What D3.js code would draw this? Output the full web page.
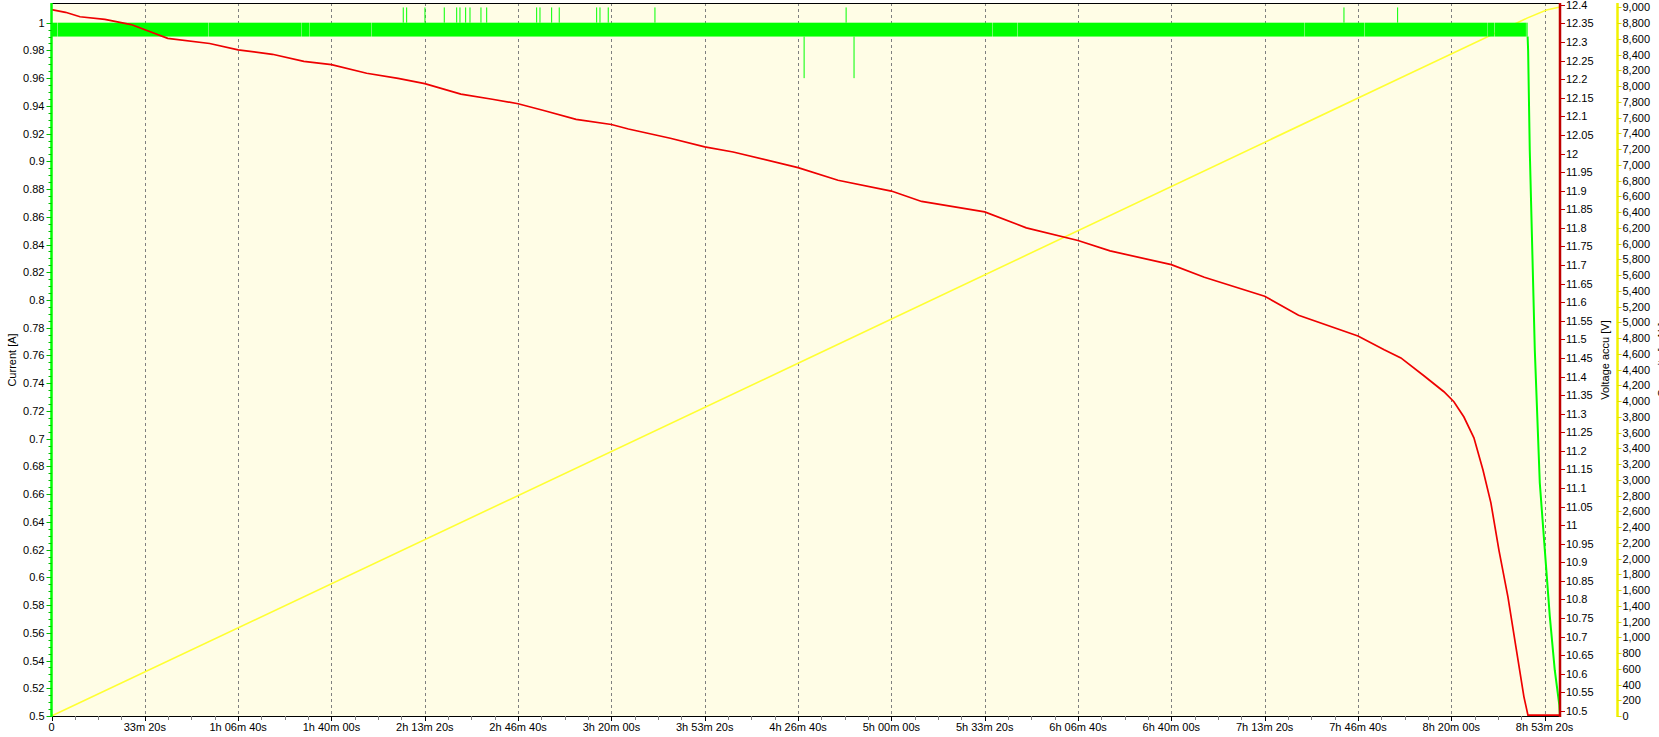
<!DOCTYPE html>
<html><head><meta charset="utf-8">
<script src="https://cdn.jsdelivr.net/npm/d3@7"></script>
<style>
body{margin:0;background:#fff;}
text{font-family:"Liberation Sans",Arial,sans-serif;font-size:11px;fill:#000;}
</style>
</head><body>
<svg id="c" width="1659" height="737"></svg>
<script>
// ---------- data ----------
const timeTicks = [0,2000,4000,6000,8000,10000,12000,14000,16000,18000,20000,22000,24000,26000,28000,30000,32000];
const timeTickLabels = ["0","33m 20s","1h 06m 40s","1h 40m 00s","2h 13m 20s","2h 46m 40s","3h 20m 00s","3h 53m 20s","4h 26m 40s","5h 00m 00s","5h 33m 20s","6h 06m 40s","6h 40m 00s","7h 13m 20s","7h 46m 40s","8h 20m 00s","8h 53m 20s"];
const currentTicks = [0.5,0.52,0.54,0.56,0.58,0.6,0.62,0.64,0.66,0.68,0.7,0.72,0.74,0.76,0.78,0.8,0.82,0.84,0.86,0.88,0.9,0.92,0.94,0.96,0.98,1];
const voltageTicks = [10.5,10.55,10.6,10.65,10.7,10.75,10.8,10.85,10.9,10.95,11,11.05,11.1,11.15,11.2,11.25,11.3,11.35,11.4,11.45,11.5,11.55,11.6,11.65,11.7,11.75,11.8,11.85,11.9,11.95,12,12.05,12.1,12.15,12.2,12.25,12.3,12.35,12.4];
const capacityTicks = [0,200,400,600,800,1000,1200,1400,1600,1800,2000,2200,2400,2600,2800,3000,3200,3400,3600,3800,4000,4200,4400,4600,4800,5000,5200,5400,5600,5800,6000,6200,6400,6600,6800,7000,7200,7400,7600,7800,8000,8200,8400,8600,8800,9000];

// Voltage accu [V] (time s, volts)
const voltTime  = [0,300,611,1144,1706,2491,3389,4000,4735,5408,6000,6755,7428,8000,8774,9447,10000,10570,11243,12000,12365,13262,14000,14609,16000,16856,18000,18648,20000,20892,22000,22687,24000,24707,26000,26726,28000,28562,28920,29413,29842,30056,30271,30485,30678,30849,31021,31214,31386,31557,31643,32330];
const voltValue = [12.387,12.38,12.368,12.361,12.347,12.31,12.296,12.279,12.267,12.248,12.239,12.216,12.202,12.188,12.16,12.146,12.134,12.115,12.092,12.078,12.066,12.041,12.018,12.004,11.962,11.928,11.899,11.871,11.843,11.8,11.766,11.738,11.701,11.667,11.616,11.565,11.509,11.472,11.45,11.402,11.359,11.332,11.291,11.235,11.149,11.06,10.933,10.807,10.672,10.538,10.489,10.489];

// Current [A]: band where the reading toggles between 0.99 and 1.00
const bandLow = 0.99, bandHigh = 1.0;
const bandStart = 0, bandEnd = 31636;
const bandGaps = [125, 3364, 5360, 5520, 6850, 20167, 20702, 26855, 28140, 30779, 30920, 31600];
const spikeTime  = [7539,7612,8004,8418,8684,8754,8876,8969,9204,9327,10398,10469,10719,10882,11684,11755,11932,12933,17030,27700,28850];
const spikeValue = [1.011,1.011,1.011,1.011,1.011,1.011,1.011,1.011,1.011,1.011,1.011,1.011,1.011,1.011,1.011,1.011,1.011,1.011,1.011,1.011,1.011];
const dipTime  = [16130, 17200];
const dipValue = [0.96, 0.96];
const tailTime  = [31636,31647,31682,31790,31897,32004,32111,32218,32315,32330];
const tailValue = [0.99,0.98,0.908,0.764,0.668,0.62,0.572,0.533,0.508,0.5];

// Capacity (time s, mAh)
const capTime  = [0,16000,28897,31636,32041,32330];
const capValue = [0,4480,8099,8866,8966,9005];

// ---------- layout ----------
const L = 51.5, R = 1560, T = 3, B = 716;
const svg = d3.select("#c");
const x = d3.scaleLinear().domain([0,32330]).range([L,R]);
const yI = d3.scaleLinear().domain([0.5,1.0142]).range([B,T]);
const yV = d3.scaleLinear().domain([10.4865,12.405]).range([B,T]).clamp(true);
const yC = d3.scaleLinear().domain([0,9055]).range([B,T]);

svg.append("rect").attr("x",L).attr("y",T).attr("width",R-L).attr("height",B-T).attr("fill","#fffde6");

// grid
svg.append("g").selectAll("line").data(timeTicks.slice(1)).join("line")
  .attr("x1",d=>Math.round(x(d))+0.5).attr("x2",d=>Math.round(x(d))+0.5)
  .attr("y1",T).attr("y2",B).attr("stroke","#808080").attr("stroke-dasharray","3,3");

svg.append("clipPath").attr("id","pc").append("rect")
  .attr("x",L).attr("y",T).attr("width",R-L).attr("height",B-T+1);
const plot = svg.append("g").attr("clip-path","url(#pc)");

// capacity line
plot.append("path").datum(capTime.map((t,i)=>[t,capValue[i]]))
  .attr("fill","none").attr("stroke","#ffff33").attr("stroke-width",1.6)
  .attr("d",d3.line().x(d=>x(d[0])).y(d=>yC(d[1])));

// current band
const edges = [bandStart, ...bandGaps, bandEnd];
const segs = [];
for (let i=0;i<edges.length-1;i++) segs.push([edges[i]+(i?8:0), edges[i+1]]);
plot.append("g").selectAll("rect").data(segs).join("rect")
  .attr("x",d=>x(d[0])).attr("width",d=>Math.max(0,x(d[1])-x(d[0])))
  .attr("y",yI(bandHigh)).attr("height",yI(bandLow)-yI(bandHigh)).attr("fill","#00ff00");
plot.append("g").selectAll("line").data(spikeTime.map((t,i)=>[t,spikeValue[i]])).join("line")
  .attr("x1",d=>x(d[0])).attr("x2",d=>x(d[0])).attr("y1",yI(bandHigh)).attr("y2",d=>yI(d[1]))
  .attr("stroke","#00ff00").attr("stroke-width",1);
plot.append("g").selectAll("line").data(dipTime.map((t,i)=>[t,dipValue[i]])).join("line")
  .attr("x1",d=>x(d[0])).attr("x2",d=>x(d[0])).attr("y1",yI(bandLow)).attr("y2",d=>yI(d[1]))
  .attr("stroke","#00ff00").attr("stroke-width",1);
plot.append("path").datum(tailTime.map((t,i)=>[t,tailValue[i]]))
  .attr("fill","none").attr("stroke","#00ff00").attr("stroke-width",2)
  .attr("d",d3.line().x(d=>x(d[0])).y(d=>yI(d[1])));

// voltage line
plot.append("path").datum(voltTime.map((t,i)=>[t,voltValue[i]]))
  .attr("fill","none").attr("stroke","#ee0000").attr("stroke-width",1.7)
  .attr("d",d3.line().x(d=>x(d[0])).y(d=>yV(d[1])));

// top border
svg.append("line").attr("x1",L).attr("x2",R).attr("y1",T+0.5).attr("y2",T+0.5).attr("stroke","#000");

// bottom axis
const minorT = [];
for (let i=0;i<timeTicks.length;i++){ for(const k of [500,1000,1500]) if (timeTicks[i]+k<32330) minorT.push(timeTicks[i]+k); }
const gx = svg.append("g");
gx.append("line").attr("x1",L).attr("x2",R).attr("y1",B+0.5).attr("y2",B+0.5).attr("stroke","#000");
gx.selectAll(".mn").data(minorT).join("line").attr("class","mn")
  .attr("x1",d=>Math.round(x(d))+0.5).attr("x2",d=>Math.round(x(d))+0.5).attr("y1",B).attr("y2",B+4).attr("stroke","#808080");
gx.selectAll(".mj").data(timeTicks).join("line").attr("class","mj")
  .attr("x1",d=>Math.round(x(d))+0.5).attr("x2",d=>Math.round(x(d))+0.5).attr("y1",B).attr("y2",B+5).attr("stroke","#000");
gx.selectAll("text").data(timeTicks).join("text")
  .attr("x",d=>x(d)).attr("y",B+15).attr("text-anchor","middle").text((d,i)=>timeTickLabels[i]);

// left axis (current)
const minorI = [];
for (let i=0;i<currentTicks.length-1;i++){ for(const k of [0.005,0.01,0.015]) minorI.push(currentTicks[i]+k); }
const gl = svg.append("g");
gl.append("line").attr("x1",L).attr("x2",L).attr("y1",T).attr("y2",B+1).attr("stroke","#00ff00").attr("stroke-width",2.5);
gl.selectAll("line.m").data(minorI).join("line").attr("class","m")
  .attr("x1",L-3).attr("x2",L).attr("y1",d=>Math.round(yI(d))+0.5).attr("y2",d=>Math.round(yI(d))+0.5).attr("stroke","#00c000");
gl.selectAll("line.t").data(currentTicks).join("line").attr("class","t")
  .attr("x1",L-5).attr("x2",L).attr("y1",d=>Math.round(yI(d))+0.5).attr("y2",d=>Math.round(yI(d))+0.5).attr("stroke","#00c000");
gl.selectAll("text").data(currentTicks).join("text")
  .attr("x",L-7).attr("y",d=>yI(d)+4).attr("text-anchor","end").text(d=>String(d));
svg.append("text").attr("transform","translate(16,360) rotate(-90)").attr("text-anchor","middle").text("Current [A]");

// right axis (voltage)
const gr = svg.append("g");
gr.append("line").attr("x1",R).attr("x2",R).attr("y1",T).attr("y2",B+1).attr("stroke","#c00000").attr("stroke-width",2.5);
gr.selectAll("line.t").data(voltageTicks).join("line").attr("class","t")
  .attr("x1",R).attr("x2",R+5).attr("y1",d=>Math.round(yV(d))+0.5).attr("y2",d=>Math.round(yV(d))+0.5).attr("stroke","#c00000");
gr.selectAll("text").data(voltageTicks).join("text")
  .attr("x",R+6).attr("y",d=>yV(d)+4).text(d=>String(d));
svg.append("text").attr("transform","translate(1609,360) rotate(-90)").attr("text-anchor","middle").text("Voltage accu [V]");

// far right axis (capacity)
const XC = 1617.5;
const gc = svg.append("g");
gc.append("line").attr("x1",XC).attr("x2",XC).attr("y1",T).attr("y2",B+1).attr("stroke","#f2f200").attr("stroke-width",2.5);
gc.selectAll("line.t").data(capacityTicks).join("line").attr("class","t")
  .attr("x1",XC).attr("x2",XC+4).attr("y1",d=>Math.round(yC(d))+0.5).attr("y2",d=>Math.round(yC(d))+0.5).attr("stroke","#e0e000");
gc.selectAll("text").data(capacityTicks).join("text")
  .attr("x",XC+5).attr("y",d=>yC(d)+4).text(d=>d3.format(",")(d));
svg.append("text").attr("transform","translate(1666,360) rotate(-90)").attr("text-anchor","middle").text("Capacity [mAh]");
</script>
</body></html>
